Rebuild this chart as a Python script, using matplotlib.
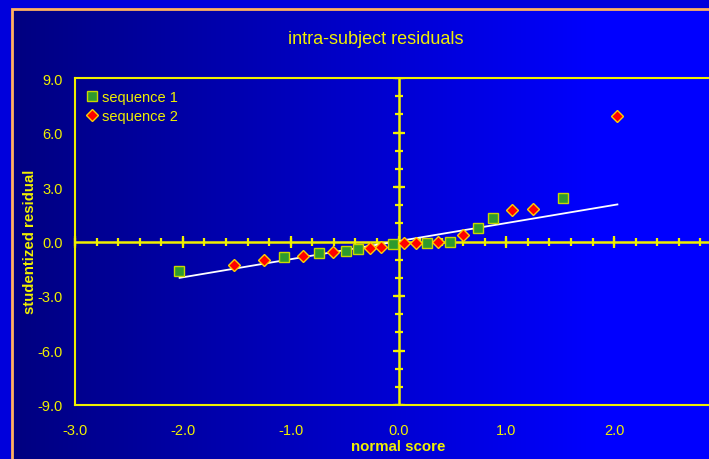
import numpy as np
import matplotlib.pyplot as plt
from matplotlib.patches import Rectangle

plt.rcParams['font.family'] = ['Liberation Sans', 'DejaVu Sans']

# normal scores / studentized residuals
seq1_x = [-2.04, -1.06, -0.74, -0.49, -0.38, -0.05, 0.26, 0.48, 0.74, 0.88, 1.53]
seq1_y = [-1.62, -0.88, -0.64, -0.50, -0.39, -0.13, -0.07, -0.02, 0.75, 1.32, 2.42]

seq2_x = [-1.53, -1.25, -0.89, -0.61, -0.26, -0.16, 0.05, 0.16, 0.37, 0.60, 1.05, 1.25, 2.03]
seq2_y = [-1.28, -1.01, -0.81, -0.59, -0.37, -0.33, -0.11, -0.09, -0.02, 0.37, 1.72, 1.80, 6.90]

fit_x = [-2.03, 2.03]
fit_y = [-2.00, 2.04]

x_ticks = [-3.0, -2.0, -1.0, 0.0, 1.0, 2.0, 3.0]
x_labels = ['-3.0', '-2.0', '-1.0', '0.0', '1.0', '2.0', '']
y_ticks = [-9.0, -6.0, -3.0, 0.0, 3.0, 6.0, 9.0]
y_labels = ['-9.0', '-6.0', '-3.0', '0.0', '3.0', '6.0', '9.0']

yellow = '#F0F000'
W, H = 709, 460

fig = plt.figure(figsize=(W / 100, H / 100), dpi=100)
fig.patch.set_facecolor('#0000DC')

# background gradient inside the frame
bg = fig.add_axes([12 / W, 0, 1 - 12 / W, 1 - 10 / H], zorder=-2)
cols = np.linspace(0, 1, 600)
blue = np.clip(128 + 127 * cols * (697 / 588), 0, 255) / 255.0
img = np.zeros((1, len(cols), 3))
img[0, :, 2] = blue
bg.imshow(img, aspect='auto', extent=[0, 1, 0, 1])
bg.set_axis_off()
fig.patches.append(Rectangle((12 / W, -0.1), 1.2, 1 - 10 / H + 0.1, transform=fig.transFigure,
                             fill=False, edgecolor='#FFB060', linewidth=2, zorder=-1))

ax = fig.add_axes([75 / W, 1 - 406 / H, (722 - 75) / W, (406 - 79) / H])
ax.patch.set_alpha(0)
ax.set_xlim(-3, 3)
ax.set_ylim(-9, 9)
for s in ax.spines.values():
    s.set_color(yellow)
    s.set_linewidth(1.5)

ax.set_xticks(x_ticks)
ax.set_yticks(y_ticks)
ax.set_xticklabels(x_labels)
ax.set_yticklabels(y_labels)
ax.tick_params(length=0, colors=yellow, labelsize=10.5)
ax.tick_params(axis='y', pad=9)
ax.tick_params(axis='x', pad=13)

# zero axes with crossing ticks
ax.axhline(0, color=yellow, lw=1.8, zorder=1)
ax.axvline(0, color=yellow, lw=1.8, zorder=1)
xt_minor = np.arange(-3, 3.01, 0.2)
yt_minor = np.arange(-9, 9.01, 1.0)
ax.plot(xt_minor, np.zeros_like(xt_minor), ls='none', marker='|', ms=6, mew=1.6, color=yellow, zorder=1, clip_on=False)
ax.plot(x_ticks, np.zeros(len(x_ticks)), ls='none', marker='|', ms=8, mew=1.6, color=yellow, zorder=1, clip_on=False)
ax.plot(np.zeros_like(yt_minor), yt_minor, ls='none', marker='_', ms=6, mew=1.6, color=yellow, zorder=1)
ax.plot(np.zeros(len(y_ticks)), y_ticks, ls='none', marker='_', ms=8, mew=1.6, color=yellow, zorder=1)

ax.plot(fit_x, fit_y, color='white', lw=1.3, zorder=2)
ax.plot(seq1_x, seq1_y, ls='none', marker='s', ms=7, mfc='#2E9A2E', mec='#C8D800', mew=1.0,
        zorder=3, label='sequence 1')
ax.plot(seq2_x, seq2_y, ls='none', marker='D', ms=6, mfc='#FF0000', mec='#FFD000', mew=1.0,
        zorder=4, label='sequence 2')

leg = ax.legend(loc='upper left', bbox_to_anchor=(7 / 647, 1 - 8 / 327), borderaxespad=0,
                fontsize=10.5, handlelength=0.8, handletextpad=0.3, borderpad=0.3,
                labelspacing=0.3, fancybox=False, framealpha=0)
leg.get_frame().set_edgecolor(yellow)
leg.get_frame().set_linewidth(1.8)
for t in leg.get_texts():
    t.set_color(yellow)

fig.text(376 / W, 1 - 40 / H, 'intra-subject residuals', color=yellow, fontsize=13,
         ha='center', va='center')
fig.text(398 / W, 1 - 447 / H, 'normal score', color=yellow, fontsize=10.8,
         fontweight='bold', ha='center', va='center')
fig.text(30 / W, 1 - 242 / H, 'studentized residual', color=yellow, fontsize=10.8,
         fontweight='bold', rotation=90, ha='center', va='center')

fig.savefig('out.png', dpi=100, facecolor=fig.get_facecolor())
